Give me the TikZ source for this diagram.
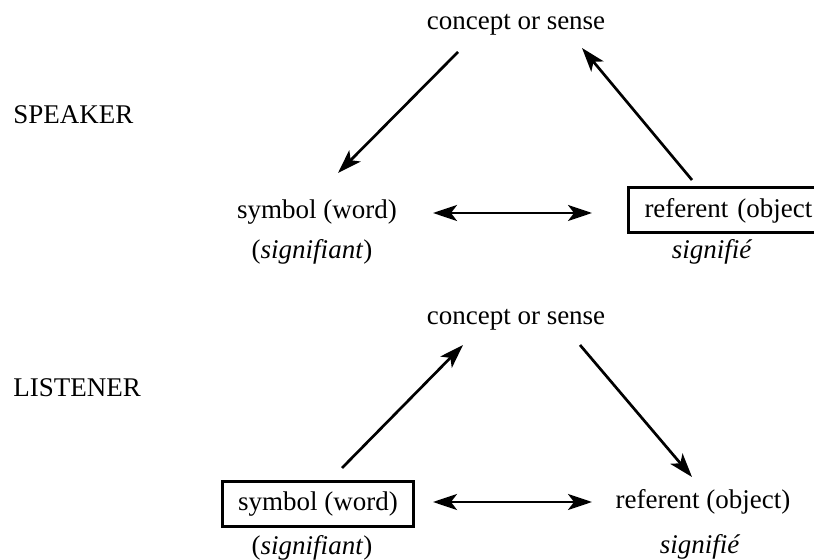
\documentclass[tikz,border=0pt]{standalone}
\usepackage{fontspec}
\setmainfont{Liberation Serif}
\usetikzlibrary{arrows.meta}
\begin{document}
\begin{tikzpicture}[x=0.5pt,y=-0.5pt,
  every node/.style={font=\fontsize{13.5}{16}\selectfont, inner sep=0pt},
  lbl/.style={},
  boxed/.style={draw, line width=1.5pt, minimum height=22.5pt, inner xsep=8pt},
  tip/.style={},
  arr/.style={line width=1.35pt, -{Stealth[length=12pt,width=8pt,inset=3pt]}},
  darr/.style={line width=1.35pt, {Stealth[length=12pt,width=8pt,inset=3pt]}-{Stealth[length=12pt,width=8pt,inset=3pt]}}]
\useasboundingbox (0,0) rectangle (814,560);
% speaker half
\node[lbl] (c1) at (516,25) {concept or sense};
\node[lbl, anchor=west] (spk) at (13,115) {SPEAKER};
\node[lbl] (sym1) at (317,212) {symbol (word)};
\node[lbl] (sig1) at (312,252) {(\textit{signifiant})};
\node[boxed, anchor=west, text width=100pt, align=left] (ref1) at (627,210.5) {referent (object};
\node[lbl] (sfe1) at (712,252) {\textit{signifié}};
\coordinate (a1s) at (458,52);  \coordinate (a1e) at (338,173);
\coordinate (b1s) at (692,180); \coordinate (b1e) at (582,48);
\coordinate (d1s) at (433,213); \coordinate (d1e) at (592,213);
\draw[arr] (a1s) -- (a1e);
\draw[arr] (b1s) -- (b1e);
\draw[darr] (d1s) -- (d1e);
% listener half
\node[lbl] (c2) at (516,320) {concept or sense};
\node[lbl, anchor=west] (lst) at (13,388) {LISTENER};
\node[boxed, minimum width=95pt] (sym2) at (318,504.5) {symbol (word)};
\node[lbl] (sig2) at (312,548) {(\textit{signifiant})};
\node[lbl] (ref2) at (703,502) {referent (object)};
\node[lbl] (sfe2) at (700,547) {\textit{signifié}};
\coordinate (a2s) at (342,468); \coordinate (a2e) at (463,345);
\coordinate (b2s) at (580,345); \coordinate (b2e) at (692,477);
\coordinate (d2s) at (433,502); \coordinate (d2e) at (592,502);
\draw[arr] (a2s) -- (a2e);
\draw[arr] (b2s) -- (b2e);
\draw[darr] (d2s) -- (d2e);
\end{tikzpicture}
\end{document}
